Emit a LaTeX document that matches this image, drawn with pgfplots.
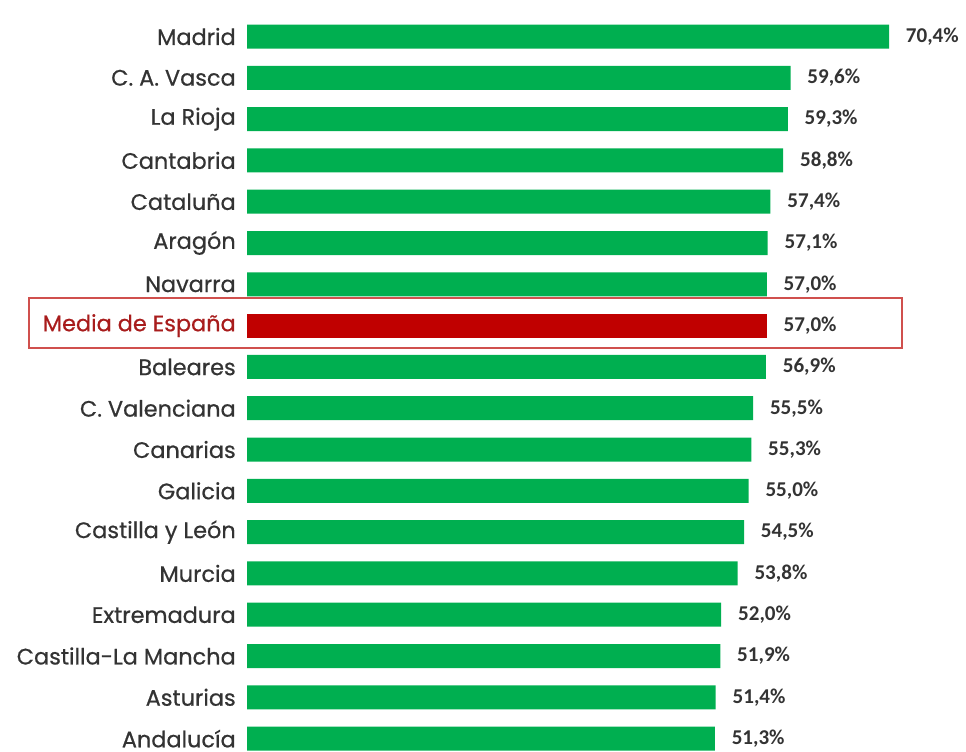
\documentclass[border=0pt]{standalone}
\usepackage{fontspec}
\setmainfont{Poppins}
\newfontfamily\valfont{Carlito}
\usepackage{pgfplots}
\pgfplotsset{compat=1.18}
\definecolor{barGreen}{HTML}{00AF50}
\definecolor{barRed}{HTML}{C00000}
\definecolor{boxRed}{HTML}{D0504D}
\definecolor{labelGray}{HTML}{333333}
\definecolor{mediaRed}{HTML}{A81C1C}

\begin{document}
\begin{tikzpicture}
  \useasboundingbox (0,0) rectangle (724.5pt,-563.25pt);
  \begin{axis}[
    at={(185.25pt,-569.44pt)}, anchor=south west,
    scale only axis,
    width=481.5pt, height=557.55pt,
    xmin=0, xmax=70.4,
    ymin=-0.5, ymax=17.5,
    xbar, bar width=18pt, bar shift=0pt,
    clip=false,
    axis line style={draw=none},
    tick style={draw=none},
    xtick=\empty,
    ytick={0,...,17},
    yticklabels={Andalucía, Asturias, Castilla-La Mancha, Extremadura, Murcia,
      Castilla y León, Galicia, Canarias, C. Valenciana, Baleares,
      \textcolor{mediaRed}{Media de España}, Navarra, Aragón, Cataluña,
      Cantabria, La Rioja, C. A. Vasca, Madrid},
    yticklabel style={font=\addfontfeatures{FakeBold=0.6}\fontsize{16.8}{18}\selectfont,
      text=labelGray, inner sep=0pt, xshift=-4pt},
    point meta=x,
    nodes near coords={\pgfmathprintnumber[fixed,fixed zerofill,precision=1,use comma,assume math mode=true]{\pgfplotspointmeta}\%},
    nodes near coords style={font=\valfont\bfseries\fontsize{15.8}{17}\selectfont,
      text=labelGray, anchor=west, inner sep=0pt, xshift=12.5pt},
  ]
    \addplot[draw=none, fill=barGreen] coordinates {
      (70.4,17) (59.6,16) (59.3,15) (58.8,14) (57.4,13) (57.1,12) (57.0,11)
      (56.9,9) (55.5,8) (55.3,7) (55.0,6) (54.5,5) (53.8,4) (52.0,3)
      (51.9,2) (51.4,1) (51.3,0)
    };
    \addplot[draw=none, fill=barRed] coordinates {(57.0,10)};
  \end{axis}
  \draw[boxRed, line width=1pt] (21.75pt,-223.5pt) rectangle (676.5pt,-261pt);
\end{tikzpicture}
\end{document}
